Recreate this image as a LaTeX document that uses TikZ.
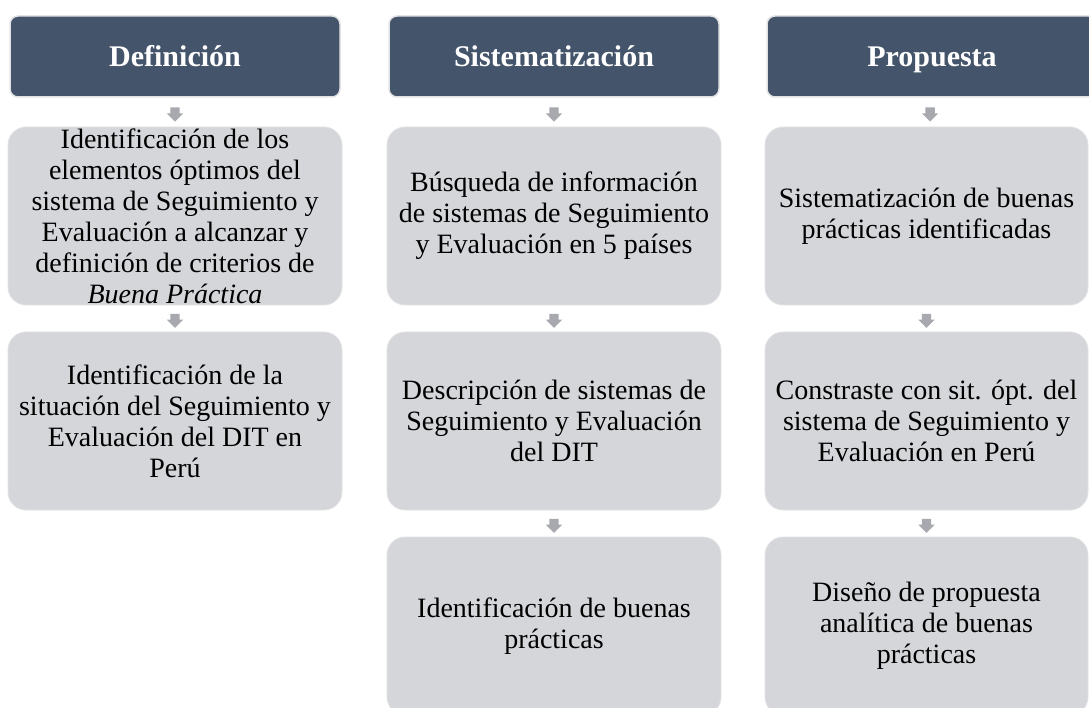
\documentclass[tikz,border=0pt]{standalone}
\usepackage{fontspec}
\setmainfont{Liberation Serif}
\usetikzlibrary{shapes.arrows}
\definecolor{slate}{HTML}{44546A}
\definecolor{boxgray}{HTML}{D5D6DA}
\definecolor{arrowgray}{HTML}{A7A9AF}
\definecolor{rimgray}{HTML}{E3E3E5}

\begin{document}
\begin{tikzpicture}[x=1pt,y=-1pt]
		\tikzstyle{phase}=[rectangle,rounded corners=8pt,fill=slate,draw=rimgray,line width=1.5pt,text=white,font=\fontsize{30}{32}\selectfont\bfseries,text height=24pt,text depth=3pt,minimum width=330pt,minimum height=81pt]
		\tikzstyle{task}=[rectangle,rounded corners=18pt,fill=boxgray,draw=boxgray!70!white,line width=0.8pt,align=center,font=\fontsize{28}{31}\selectfont,minimum width=334pt,minimum height=178pt,inner sep=0pt]
		\tikzstyle{down}=[single arrow,shape border rotate=270,fill=arrowgray,inner sep=4.5pt,minimum height=14pt,single arrow head extend=3.5pt]

		\useasboundingbox (0,0) rectangle (1089,708);
		\clip (0,0) rectangle (1089,708);

		% column 1
		\node (def) at (175,56.5) [phase] {Definición};
		\node (def1) at (175,216) [task] {Identificación de los\\elementos óptimos del\\sistema de Seguimiento y\\Evaluación a alcanzar y\\definición de criterios de\\\textit{Buena Práctica}};
		\node (def2) at (175,421) [task] {Identificación de la\\situación del Seguimiento y\\Evaluación del DIT en\\Perú};

		% column 2
		\node (sis) at (554,56.5) [phase] {Sistematización};
		\node (sis1) at (554,216) [task] {Búsqueda de información\\de sistemas de Seguimiento\\y Evaluación en 5 países};
		\node (sis2) at (554,421) [task] {Descripción de sistemas de\\Seguimiento y Evaluación\\del DIT};
		\node (sis3) at (554,626) [task] {Identificación de buenas\\prácticas};

		% column 3
		\node (pro) at (932,56.5) [phase] {Propuesta};
		\node (pro1) at (926.5,216) [task,minimum width=323pt] {Sistematización de buenas\\prácticas identificadas};
		\node (pro2) at (926.5,421) [task,minimum width=323pt] {Constraste con sit. ópt. del\\sistema de Seguimiento y\\Evaluación en Perú};
		\node (pro3) at (926.5,626) [task,minimum width=323pt] {Diseño de propuesta\\analítica de buenas\\prácticas};

		\path (def) -- node[down] {} (def1);
		\path (def1) -- node[down] {} (def2);
		\path (sis) -- node[down] {} (sis1);
		\path (sis1) -- node[down] {} (sis2);
		\path (sis2) -- node[down] {} (sis3);
		\path (pro) -- node[down] {} (pro1);
		\path (pro1) -- node[down] {} (pro2);
		\path (pro2) -- node[down] {} (pro3);
	\end{tikzpicture}
\end{document}
